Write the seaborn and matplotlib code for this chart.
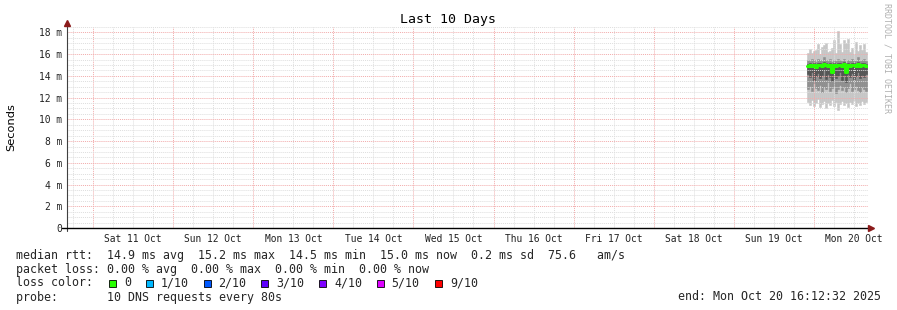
import matplotlib
matplotlib.use("Agg")
import matplotlib.pyplot as plt
import matplotlib.dates as mdates
from matplotlib.lines import Line2D
from matplotlib.patches import Rectangle
import numpy as np
import pandas as pd
import seaborn as sns

# ---------------- data ----------------
title = "Last 10 Days"
day_labels = ["Sat 11 Oct", "Sun 12 Oct", "Mon 13 Oct", "Tue 14 Oct", "Wed 15 Oct",
              "Thu 16 Oct", "Fri 17 Oct", "Sat 18 Oct", "Sun 19 Oct", "Mon 20 Oct"]
range_start = "2025-10-10 16:12:32"
range_end = "2025-10-20 16:12:32"
data_start = "2025-10-19 22:00"
step = "36min"

rtt_med = [14.9, 15.0, 14.9, 15.0, 14.8, 15.0, 15.0, 14.9, 15.1, 15.0, 14.9, 15.0, 14.4, 15.0, 14.9,
           15.0, 15.0, 14.9, 15.1, 14.4, 15.0, 14.9, 15.0, 15.0, 14.9, 15.1, 14.9, 15.0, 15.0, 14.9]
rtt_p60 = [15.1, 15.2, 15.1, 15.2, 15.0, 15.2, 15.2, 15.1, 15.3, 15.2, 15.1, 15.2, 14.7, 15.2, 15.1,
           15.2, 15.2, 15.1, 15.3, 14.7, 15.2, 15.1, 15.2, 15.2, 15.1, 15.3, 15.1, 15.2, 15.2, 15.1]
rtt_p80 = [15.5, 15.4, 15.6, 15.5, 15.3, 15.6, 15.5, 15.4, 15.7, 15.5, 15.4, 15.6, 15.3, 15.5, 15.4,
           15.6, 15.5, 15.4, 15.6, 15.2, 15.5, 15.4, 15.6, 15.5, 15.4, 15.7, 15.4, 15.5, 15.6, 15.4]
rtt_p40 = [14.2, 13.9, 14.4, 13.6, 14.0, 14.3, 13.8, 14.1, 14.5, 13.7, 14.2, 13.9, 13.5, 14.3, 13.8,
           14.0, 14.4, 13.6, 14.1, 13.4, 14.2, 13.9, 14.3, 13.7, 14.0, 14.4, 13.8, 14.1, 13.9, 14.2]
rtt_p20 = [12.8, 13.1, 12.6, 13.3, 12.9, 12.7, 13.2, 12.5, 13.0, 12.8, 13.4, 12.6, 12.9, 13.1, 12.4,
           12.8, 13.2, 12.7, 13.0, 12.5, 12.9, 13.3, 12.6, 12.8, 13.1, 12.7, 12.5, 13.0, 12.8, 12.6]
rtt_min = [11.6, 11.3, 11.8, 11.2, 11.5, 11.9, 11.1, 11.4, 11.7, 11.0, 11.5, 11.3, 11.8, 11.2, 11.6,
           10.9, 11.4, 11.7, 11.3, 11.5, 11.1, 11.6, 11.4, 11.8, 11.2, 11.5, 11.3, 11.7, 11.4, 11.6]
rtt_max = [16.1, 16.5, 16.1, 16.3, 16.4, 16.9, 16.0, 16.7, 16.8, 17.0, 16.2, 16.3, 16.6, 17.3, 16.1,
           18.1, 16.9, 16.2, 17.3, 17.0, 17.4, 16.2, 16.6, 16.0, 17.1, 16.3, 16.8, 16.4, 16.9, 16.2]

y_ticks = [0, 2, 4, 6, 8, 10, 12, 14, 16, 18]

legend_rtt = "median rtt:  14.9 ms avg  15.2 ms max  14.5 ms min  15.0 ms now  0.2 ms sd  75.6   am/s"
legend_loss = "packet loss: 0.00 % avg  0.00 % max  0.00 % min  0.00 % now"
loss_labels = ["0", "1/10", "2/10", "3/10", "4/10", "5/10", "9/10"]
loss_colors = ["#26ff00", "#00b8ff", "#0059ff", "#5e00ff", "#7e00ff", "#dd00ff", "#ff0000"]
probe_text = "probe:       10 DNS requests every 80s"
end_text = "end: Mon Oct 20 16:12:32 2025"

# ---------------- figure ----------------
W, H = 897, 310
sns.set_theme(style="white")
plt.rcParams["font.family"] = ["DejaVu Sans Mono", "DejaVu Sans"]

fig = plt.figure(figsize=(W / 100, H / 100), dpi=100)
fig.patch.set_facecolor("white")


def fx(px):
    return px / W


def fy(py):
    return 1 - py / H


ax = fig.add_axes([fx(67), fy(228), (868 - 67) / W, (228 - 27) / H])
ax.set_facecolor("white")

times = pd.date_range(data_start, periods=len(rtt_med), freq=step)
width = pd.Timedelta(step) / pd.Timedelta("1D")
x = mdates.date2num(times.to_pydatetime())

df = pd.DataFrame({"time": times, "min": rtt_min, "p20": rtt_p20, "p40": rtt_p40,
                   "med": rtt_med, "p60": rtt_p60, "p80": rtt_p80, "max": rtt_max})

bands = [("min", "max", "#c6c6c6"), ("p20", "p80", "#8f8f8f"), ("p40", "p60", "#555555")]
for lo, hi, col in bands:
    ax.bar(x, df[hi] - df[lo], bottom=df[lo], width=width, align="edge",
           color=col, edgecolor=col, linewidth=0.4, zorder=1)

# median line, stepped
med_df = pd.concat([df[["time", "med"]],
                    pd.DataFrame({"time": [times[-1] + pd.Timedelta(step)], "med": [rtt_med[-1]]})],
                   ignore_index=True)
sns.lineplot(data=med_df, x="time", y="med", ax=ax, drawstyle="steps-post",
             color="#26ff00", linewidth=2.2, zorder=4)

# axes ranges
ax.set_xlim(pd.Timestamp(range_start), pd.Timestamp(range_end))
ax.set_ylim(0, 18.5)

# grid / ticks
midnights = pd.date_range("2025-10-11", "2025-10-20", freq="1D")
noons = list(pd.date_range("2025-10-11 12:00", "2025-10-20 12:00", freq="1D"))
sixh = pd.date_range("2025-10-10 18:00", "2025-10-20 12:00", freq="6h")
ax.set_xticks(midnights)
ax.set_xticklabels([""] * len(midnights))
ax.set_xticks(sixh, minor=True)
lab_minor = [day_labels[noons.index(t)] if t in noons else "" for t in sixh]
ax.set_xticklabels(lab_minor, minor=True)

ax.set_yticks(y_ticks)
ax.set_yticklabels(["0" if v == 0 else f"{v} m" for v in y_ticks])
ax.set_yticks(np.arange(0, 18.6, 0.5), minor=True)

ax.grid(which="minor", color="#dedede", linestyle=(0, (1, 1)), linewidth=0.7)
ax.grid(which="major", color="#f2abab", linestyle=(0, (1, 1)), linewidth=0.7)
ax.set_axisbelow(False)

ax.tick_params(axis="y", which="major", direction="inout", length=3, width=0.7,
               color="#404040", labelsize=6.9, pad=2, labelcolor="#222222")
ax.tick_params(axis="y", which="minor", direction="inout", length=1.5, width=0.6, color="#909090")
ax.tick_params(axis="x", which="major", direction="inout", length=3, width=0.7, color="#404040")
ax.tick_params(axis="x", which="minor", length=0, labelsize=6.9, pad=4, labelcolor="#222222")

for s in ax.spines.values():
    s.set_visible(False)
ax.set_xlabel("")
ax.set_ylabel("")

# axis lines with arrows
fig.add_artist(Line2D([fx(67), fx(67)], [fy(231), fy(25)], transform=fig.transFigure,
                      color="#404040", linewidth=0.8))
fig.add_artist(Line2D([fx(62), fx(870)], [fy(228), fy(228)], transform=fig.transFigure,
                      color="black", linewidth=1.0))
fig.add_artist(Line2D([fx(67)], [fy(23)], transform=fig.transFigure, marker="^",
                      markersize=4.5, color="#8b1a1a", linestyle="none"))
fig.add_artist(Line2D([fx(871)], [fy(228)], transform=fig.transFigure, marker=">",
                      markersize=4.5, color="#8b1a1a", linestyle="none"))

# texts
fig.text(fx(448), fy(19), title, ha="center", va="center", fontsize=9.5, color="black")
fig.text(fx(11), fy(127), "Seconds", ha="center", va="center", rotation=90,
         fontsize=8.2, family="DejaVu Sans", color="black")
fig.text(fx(887), fy(3), "RRDTOOL / TOBI OETIKER", ha="center", va="top", rotation=270,
         fontsize=6.0, color="#b0b0b0")

LFS = 8.42
fig.text(fx(16), fy(255), legend_rtt, ha="left", va="center", fontsize=LFS)
fig.text(fx(16), fy(269), legend_loss, ha="left", va="center", fontsize=LFS)
fig.text(fx(16), fy(283), "loss color:", ha="left", va="center", fontsize=LFS)
box_x = [109, 145.5, 203.5, 261.3, 319, 376.7, 435]
for bx, lab, col in zip(box_x, loss_labels, loss_colors):
    fig.add_artist(Rectangle((fx(bx), fy(286.5)), 7 / W, 7 / H, transform=fig.transFigure,
                             facecolor=col, edgecolor="black", linewidth=0.6))
    fig.text(fx(bx + 15), fy(283), lab, ha="left", va="center", fontsize=LFS)
fig.text(fx(16), fy(297), probe_text, ha="left", va="center", fontsize=LFS)
fig.text(fx(881), fy(297), end_text, ha="right", va="center", fontsize=LFS)

fig.savefig("out.png", dpi=100, facecolor="white")
